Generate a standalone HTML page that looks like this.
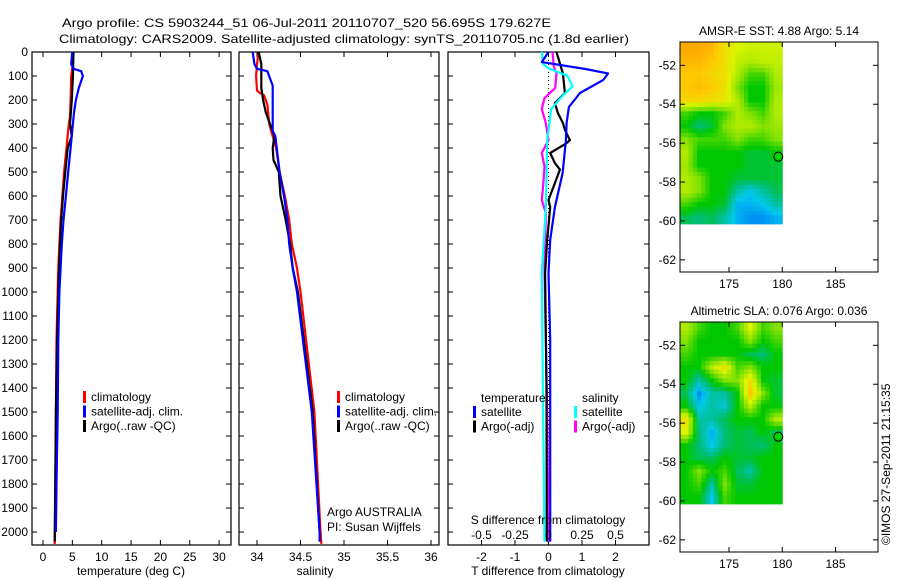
<!DOCTYPE html>
<html><head><meta charset="utf-8"><style>
html,body{margin:0;padding:0;background:#fff;}
svg{display:block;font-family:"Liberation Sans",sans-serif;}
text{font-size:12px;fill:#000;}
</style></head><body>
<svg id="c" width="900" height="580" xmlns="http://www.w3.org/2000/svg">
<text x="62" y="27" textLength="489" lengthAdjust="spacingAndGlyphs">Argo profile: CS 5903244_51 06-Jul-2011 20110707_520 56.695S 179.627E</text>
<text x="59" y="43" textLength="570" lengthAdjust="spacingAndGlyphs">Climatology: CARS2009. Satellite-adjusted climatology: synTS_20110705.nc (1.8d earlier)</text>
</svg>
<script>
// ---- data ----
const depthTicks=[0,100,200,300,400,500,600,700,800,900,1000,1100,1200,1300,1400,1500,1600,1700,1800,1900,2000];
const tempTicks=[0,5,10,15,20,25,30];
const salTicks=[34,34.5,35,35.5,36];
const tdiffTicks=[-2,-1,0,1,2];
const sdiffTicks=[-0.5,-0.25,0,0.25,0.5];
const sdiffTickLabels=["-0.5","-0.25","0","0.25","0.5"];
const tClimDepth=[0,50,100,200,270,300,400,500,600,700,800,900,1000,1200,1500,1800,2050];
const tClimVal=[5.0,5.1,4.8,4.7,4.6,4.4,4.0,3.6,3.3,3.0,2.8,2.6,2.5,2.3,2.2,2.1,2.0];
const tSatDepth=[0,50,70,80,100,150,200,250,300,400,500,600,700,800,900,1000,1200,1500,1800,2000];
const tSatVal=[5.0,4.8,5.2,6.5,6.8,6.1,5.6,5.3,5.1,4.7,4.3,3.9,3.5,3.2,3.0,2.8,2.6,2.5,2.3,2.2];
const tArgoDepth=[0,100,200,300,350,400,500,600,700,800,1000,1200,1500,1800,2040];
const tArgoVal=[5.2,5.1,4.9,4.6,4.9,4.2,3.8,3.4,3.1,2.9,2.6,2.4,2.2,2.1,2.0];
const sClimDepth=[0,50,100,160,170,180,220,300,400,500,600,700,800,900,1000,1500,2000,2050];
const sClimVal=[34.02,34.0,33.99,34.0,34.03,34.08,34.12,34.14,34.22,34.26,34.32,34.37,34.4,34.46,34.5,34.66,34.73,34.74];
const sSatDepth=[0,50,70,80,110,140,330,350,500,600,700,800,900,1000,1500,2000,2040];
const sSatVal=[33.95,33.97,34.0,34.12,34.15,34.18,34.18,34.21,34.26,34.31,34.35,34.37,34.41,34.46,34.63,34.72,34.72];
const sArgoDepth=[0,50,150,200,250,300,350,400,450,500,600,700,800,900,1000,1500,2000,2040];
const sArgoVal=[34.02,34.05,34.05,34.07,34.1,34.15,34.2,34.18,34.19,34.25,34.27,34.33,34.38,34.41,34.47,34.64,34.72,34.72];
const dTSatDepth=[0,42,71,89,117,171,229,296,367,505,646,783,921,1200,1600,2040];
const dTSatVal=[0,-0.2,1.1,1.78,1.63,0.94,0.61,0.54,0.52,0.42,0.19,0.05,0.0,0.05,0.05,0.05];
const dTArgoDepth=[0,89,171,213,254,296,324,367,380,421,463,490,546,616,646,783,921,1400,2040];
const dTArgoVal=[0.24,0.43,0.49,0.19,0.28,0.43,0.49,0.64,0.54,0.05,0.19,0.34,0.19,0,0.05,-0.04,-0.1,-0.06,-0.05];
const dSSatDepth=[0,51,68,99,143,180,237,367,646,921,1500,2040];
const dSSatVal=[-0.05,-0.04,0,0.14,0.18,0.11,0.02,-0.01,-0.02,-0.05,-0.04,-0.03];
const dSArgoDepth=[0,62,89,150,192,237,296,367,421,477,560,616,671,921,1500,2040];
const dSArgoVal=[0.03,0.04,0.06,0.05,-0.03,-0.05,-0.02,0,-0.05,-0.03,-0.04,-0.05,-0.02,-0.03,-0.01,0.0];
const lonTicks=[175,180,185];
const latTicks=[-52,-54,-56,-58,-60,-62];
const sstGrid=[
[0.8,0.8,0.78,0.7,0.65,0.63,0.63,0.63],
[0.78,0.78,0.75,0.7,0.62,0.6,0.62,0.62],
[0.75,0.75,0.72,0.7,0.6,0.5,0.5,0.6],
[0.75,0.77,0.75,0.7,0.55,0.45,0.45,0.58],
[0.72,0.72,0.7,0.68,0.6,0.45,0.45,0.6],
[0.5,0.45,0.45,0.5,0.6,0.55,0.5,0.6],
[0.45,0.38,0.42,0.55,0.6,0.6,0.55,0.58],
[0.55,0.5,0.5,0.5,0.55,0.5,0.5,0.55],
[0.6,0.45,0.45,0.45,0.45,0.42,0.42,0.45],
[0.58,0.45,0.45,0.45,0.45,0.42,0.42,0.42],
[0.6,0.55,0.45,0.45,0.42,0.42,0.42,0.42],
[0.6,0.55,0.45,0.45,0.35,0.3,0.35,0.4],
[0.5,0.45,0.45,0.42,0.28,0.28,0.3,0.35],
[0.4,0.38,0.4,0.35,0.28,0.25,0.25,0.28]];
const slaGrid=[
[0.6,0.5,0.45,0.45,0.5,0.65,0.5,0.55],
[0.55,0.45,0.45,0.45,0.45,0.55,0.45,0.5],
[0.5,0.45,0.45,0.45,0.45,0.4,0.38,0.45],
[0.45,0.45,0.6,0.7,0.5,0.55,0.45,0.45],
[0.45,0.35,0.45,0.55,0.55,0.7,0.45,0.42],
[0.4,0.25,0.35,0.35,0.45,0.75,0.55,0.42],
[0.45,0.3,0.35,0.32,0.45,0.6,0.45,0.45],
[0.7,0.35,0.35,0.4,0.45,0.45,0.45,0.6],
[0.65,0.38,0.28,0.38,0.42,0.4,0.45,0.4],
[0.45,0.38,0.3,0.38,0.42,0.4,0.38,0.45],
[0.45,0.4,0.4,0.45,0.42,0.42,0.45,0.45],
[0.45,0.55,0.45,0.5,0.4,0.35,0.45,0.45],
[0.45,0.5,0.35,0.55,0.42,0.42,0.45,0.45],
[0.45,0.45,0.3,0.5,0.45,0.45,0.45,0.45]];
const argoLon=179.627, argoLat=-56.695;

// ---- drawing ----
const svg=document.getElementById('c');
const NS='http://www.w3.org/2000/svg';
function mk(tag,attrs,parent){const e=document.createElementNS(NS,tag);for(const k in attrs)e.setAttribute(k,attrs[k]);(parent||svg).appendChild(e);return e;}
const TOP=52,BOT=545;
const yD=d=>TOP+(d/2054)*(BOT-TOP);
const xT=v=>43+v*5.87;
const xS=v=>257+(v-34)*87;
const xDT=v=>548.5+v*33.5;
const xDS=v=>548.5+v*134;

function panel(x0,x1,name){
  const g=mk('g',{});
  
  
  mk('rect',{x:x0,y:TOP,width:x1-x0,height:BOT-TOP,fill:'none',stroke:'#000','stroke-width':1.2},g);
  depthTicks.forEach(d=>{const y=yD(d);
    mk('line',{x1:x0,x2:x0+5,y1:y,y2:y,stroke:'#000'},g);
    mk('line',{x1:x1,x2:x1-5,y1:y,y2:y,stroke:'#000'},g);});
  return g;
}
function xticks(g,ticks,fx,labels){
  ticks.forEach((t,i)=>{const x=fx(t);
    mk('line',{x1:x,x2:x,y1:BOT,y2:BOT-5,stroke:'#000'},g);
    mk('line',{x1:x,x2:x,y1:TOP,y2:TOP+5,stroke:'#000'},g);
    if(labels!==false){const tx=mk('text',{x:x,y:BOT+16,'text-anchor':'middle'},g);tx.textContent=labels?labels[i]:String(t);}
  });
}
function line(g,ds,vs,fx,color,name){
  const pts=ds.map((d,i)=>fx(vs[i]).toFixed(1)+','+yD(d).toFixed(1)).join(' ');
  const p=mk('polyline',{points:pts,fill:'none',stroke:color,'stroke-width':2.2,'stroke-linejoin':'round'},g);
  
  
}
function legend(g,x,y,items,name){
  const lg=mk('g',{},g);
  
  
  items.forEach((it,i)=>{
    if(it[0])mk('rect',{x:x,y:y+i*14.5-10,width:3,height:12,fill:it[0]},lg);
    const t=mk('text',{x:x+8,y:y+i*14.5},lg);t.textContent=it[1];
  });
}
// panel 1
const p1=panel(32,231,'temperature-panel');
depthTicks.forEach(d=>{const t=mk('text',{x:28,y:yD(d)+4,'text-anchor':'end'},p1);t.textContent=d;});
xticks(p1,tempTicks,xT);
line(p1,tClimDepth,tClimVal,xT,'#f00','temp-climatology-line');
line(p1,tArgoDepth,tArgoVal,xT,'#000','temp-argo-line');
line(p1,tSatDepth,tSatVal,xT,'#00f','temp-satellite-line');
legend(p1,83,401,[['#f00','climatology'],['#00f','satellite-adj. clim.'],['#000','Argo(..raw -QC)']],'temp-legend');
{const t=mk('text',{x:131,y:575,'text-anchor':'middle'},p1);t.textContent='temperature (deg C)';}
// panel 2
const p2=panel(239,439,'salinity-panel');
xticks(p2,salTicks,xS);
line(p2,sClimDepth,sClimVal,xS,'#f00','sal-climatology-line');
line(p2,sArgoDepth,sArgoVal,xS,'#000','sal-argo-line');
line(p2,sSatDepth,sSatVal,xS,'#00f','sal-satellite-line');
legend(p2,337,401,[['#f00','climatology'],['#00f','satellite-adj. clim.'],['#000','Argo(..raw -QC)']],'sal-legend');
{const t=mk('text',{x:327,y:516},p2);t.textContent='Argo AUSTRALIA';
 const t2=mk('text',{x:327,y:531},p2);t2.textContent='PI: Susan Wijffels';
 const t3=mk('text',{x:315,y:575,'text-anchor':'middle'},p2);t3.textContent='salinity';}
// panel 3
const p3=panel(448,649,'difference-panel');
xticks(p3,tdiffTicks,xDT);
mk('line',{x1:548.5,x2:548.5,y1:TOP,y2:BOT,stroke:'#000','stroke-dasharray':'1,3'},p3);
line(p3,dSArgoDepth,dSArgoVal,xDS,'#f0f','sdiff-argo-line');
line(p3,dTArgoDepth,dTArgoVal,xDT,'#000','tdiff-argo-line');
line(p3,dSSatDepth,dSSatVal,xDS,'#0ff','sdiff-satellite-line');
line(p3,dTSatDepth,dTSatVal,xDT,'#00f','tdiff-satellite-line');
{const t=mk('text',{x:481,y:402},p3);t.textContent='temperature';
 const t2=mk('text',{x:582,y:402},p3);t2.textContent='salinity';}
legend(p3,473,416,[['#00f','satellite'],['#000','Argo(-adj)']],'tdiff-legend');
legend(p3,574,416,[['#0ff','satellite'],['#f0f','Argo(-adj)']],'sdiff-legend');
{const t=mk('text',{x:548,y:524,'text-anchor':'middle'},p3);t.textContent='S difference from climatology';}
sdiffTicks.forEach((s,i)=>{const t=mk('text',{x:xDS(s),y:539,'text-anchor':'middle'},p3);t.textContent=sdiffTickLabels[i];});
{const t=mk('text',{x:548,y:575,'text-anchor':'middle'},p3);t.textContent='T difference from climatology';}

// maps
function cmap(v){
  const st=[[0.2,[0,90,255]],[0.3,[0,200,235]],[0.38,[0,190,120]],[0.45,[0,200,0]],[0.55,[130,225,0]],[0.65,[220,245,0]],[0.75,[255,200,0]],[0.85,[255,140,0]]];
  if(v<=st[0][0])return 'rgb('+st[0][1]+')';
  for(let i=1;i<st.length;i++){if(v<=st[i][0]){const a=st[i-1],b=st[i],f=(v-a[0])/(b[0]-a[0]);
    return 'rgb('+a[1].map((c,k)=>Math.round(c+(b[1][k]-c)*f)).join(',')+')';}}
  return 'rgb('+st[st.length-1][1]+')';
}
function sample(grid,fi,fj){
  const rows=grid.length,cols=grid[0].length;
  fi=Math.max(0,Math.min(rows-1,fi));fj=Math.max(0,Math.min(cols-1,fj));
  const i0=Math.floor(fi),j0=Math.floor(fj),i1=Math.min(rows-1,i0+1),j1=Math.min(cols-1,j0+1);
  const a=fi-i0,b=fj-j0;
  return grid[i0][j0]*(1-a)*(1-b)+grid[i0][j1]*(1-a)*b+grid[i1][j0]*a*(1-b)+grid[i1][j1]*a*b;
}
function mapPanel(top,grid,title,name){
  const L=680,R=878,H=230;
  const xL=lon=>L+(lon-170.4)*10.65;
  const yL=lat=>top+(-50.8-lat)*19.45;
  const g=mk('g',{});
  
  
  const rows=grid.length,cols=grid[0].length,SUB=3;
  const gx0=xL(170.4),gx1=xL(180),gy0=yL(-50.8),gy1=yL(-60.15);
  const cw=(gx1-gx0)/(cols*SUB),ch=(gy1-gy0)/(rows*SUB);
  for(let i=0;i<rows*SUB;i++)for(let j=0;j<cols*SUB;j++){
    const v=sample(grid,(i+0.5)/SUB-0.5,(j+0.5)/SUB-0.5);
    const c=mk('rect',{x:(gx0+j*cw).toFixed(2),y:(gy0+i*ch).toFixed(2),width:(cw+0.5).toFixed(2),height:(ch+0.5).toFixed(2),fill:cmap(v)},g);
    
    
  }
  mk('rect',{x:L,y:top,width:R-L,height:H,fill:'none',stroke:'#000','stroke-width':1},g);
  lonTicks.forEach(l=>{const x=xL(l);
    mk('line',{x1:x,x2:x,y1:top,y2:top+5,stroke:'#000'},g);
    mk('line',{x1:x,x2:x,y1:top+H,y2:top+H-5,stroke:'#000'},g);
    const t=mk('text',{x:x,y:top+H+16,'text-anchor':'middle'},g);t.textContent=l;});
  latTicks.forEach(l=>{const y=yL(l);
    mk('line',{x1:L,x2:L+5,y1:y,y2:y,stroke:'#000'},g);
    mk('line',{x1:R,x2:R-5,y1:y,y2:y,stroke:'#000'},g);
    const t=mk('text',{x:L-4,y:y+4,'text-anchor':'end'},g);t.textContent=l;});
  const c=mk('circle',{cx:xL(argoLon),cy:yL(argoLat),r:4.5,fill:'#00d000',stroke:'#000','stroke-width':1},g);
  
  
  const t=mk('text',{x:779,y:top-7,'text-anchor':'middle'},g);t.textContent=title;
}
mapPanel(42,sstGrid,'AMSR-E SST: 4.88 Argo: 5.14','sst-map');
mapPanel(322,slaGrid,'Altimetric SLA: 0.076 Argo: 0.036','sla-map');
{const t=mk('text',{x:890,y:545,transform:'rotate(-90 890 545)'});
 
 
 t.textContent='©IMOS 27-Sep-2011 21:15:35';}
</script>
</body></html>
